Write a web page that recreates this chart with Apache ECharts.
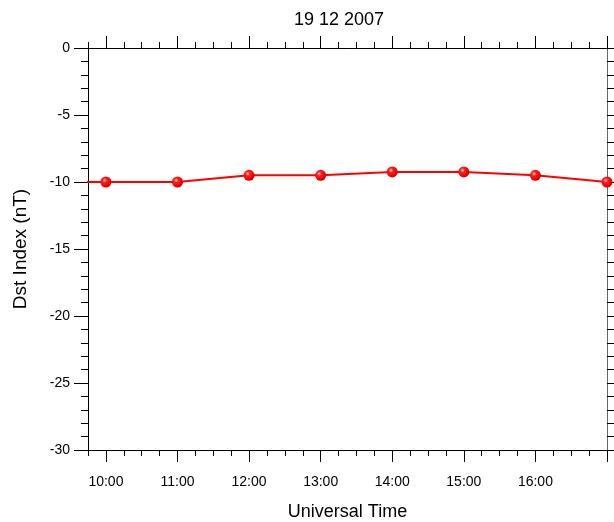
<!DOCTYPE html>
<html>
<head>
<meta charset="utf-8">
<script src="https://cdn.jsdelivr.net/npm/echarts@6/dist/echarts.min.js"></script>
<style>
html,body{margin:0;padding:0;background:#fff;}
#chart{width:614px;height:522px;}
</style>
</head>
<body>
<div id="chart"></div>
<script>
// Data (hours UT, Dst nT)
var hours = [9, 10, 11, 12, 13, 14, 15, 16, 17];
var dstValues = [-10, -10, -10, -9.5, -9.5, -9.25, -9.25, -9.5, -10];
var titleText = '19 12 2007';
var xLabelHours = [10, 11, 12, 13, 14, 15, 16];
var xMajorTicks = [10, 11, 12, 13, 14, 15, 16, 17];
var xMinorTicks = [9.75, 10.25, 10.5, 10.75, 11.25, 11.5, 11.75, 12.25, 12.5, 12.75,
  13.25, 13.5, 13.75, 14.25, 14.5, 14.75, 15.25, 15.5, 15.75, 16.25, 16.5, 16.75];

var seriesData = hours.map(function (h, i) { return [h, dstValues[i]]; });

var FONT = '"Liberation Sans", Arial, sans-serif';
var axisCol = '#000';

function xAx(pos, ticks, len, labels) {
  return {
    type: 'value', position: pos, min: 9.75, max: 17,
    axisLine: { show: true, onZero: false, lineStyle: { color: axisCol, width: 1 } },
    axisTick: { show: true, inside: false, length: len, customValues: ticks, lineStyle: { color: axisCol } },
    axisLabel: labels ? {
      show: true, customValues: xLabelHours, margin: 25, fontSize: 14, color: '#000', fontFamily: FONT,
      formatter: function (v) { return v + ':00'; }
    } : { show: false },
    splitLine: { show: false }
  };
}

var chart = echarts.init(document.getElementById('chart'), null, { renderer: 'canvas' });
chart.setOption({
  animation: false,
  backgroundColor: '#fff',
  title: {
    text: titleText, left: 289, top: 6,
    textStyle: { fontSize: 18, fontWeight: 'normal', color: '#000', fontFamily: FONT }
  },
  grid: { left: 88, right: 7, top: 48, bottom: 72, containLabel: false, outerBoundsMode: 'none' },
  xAxis: [
    Object.assign(xAx('bottom', xMajorTicks, 12, true), {
      name: 'Universal Time', nameLocation: 'middle', nameGap: 53,
      nameTextStyle: { fontSize: 18, color: '#000', fontFamily: FONT }
    }),
    xAx('bottom', xMinorTicks, 6, false),
    xAx('top', xMajorTicks, 12, false),
    xAx('top', xMinorTicks, 6, false)
  ],
  yAxis: [
    {
      type: 'value', position: 'left', min: -30, max: 0, interval: 5,
      name: 'Dst Index (nT)', nameLocation: 'middle', nameGap: 58, nameRotate: 90,
      nameTextStyle: { fontSize: 19, color: '#000', fontFamily: FONT, padding: [0, 0, 0, 0] },
      axisLine: { show: true, onZero: false, lineStyle: { color: axisCol } },
      axisTick: { show: true, length: 14, lineStyle: { color: axisCol } },
      minorTick: { show: true, splitNumber: 5, length: 7, lineStyle: { color: axisCol } },
      axisLabel: { fontSize: 14, color: '#000', fontFamily: FONT, margin: 18 },
      splitLine: { show: false }, minorSplitLine: { show: false }
    },
    {
      type: 'value', position: 'right', min: -30, max: 0, interval: 5,
      axisLine: { show: true, onZero: false, lineStyle: { color: '#666' } },
      axisTick: { show: true, length: 14, lineStyle: { color: axisCol } },
      minorTick: { show: true, splitNumber: 5, length: 7, lineStyle: { color: axisCol } },
      axisLabel: { show: false },
      splitLine: { show: false }, minorSplitLine: { show: false }
    }
  ],
  series: [{
    type: 'line', data: seriesData, xAxisIndex: 0, yAxisIndex: 0,
    clip: true,
    lineStyle: { color: '#ff0000', width: 2 },
    symbol: 'circle', symbolSize: 11, showAllSymbol: true,
    itemStyle: {
      color: {
        type: 'radial', x: 0.38, y: 0.35, r: 0.65,
        colorStops: [
          { offset: 0, color: '#ffe0e0' },
          { offset: 0.3, color: '#ff2020' },
          { offset: 0.8, color: '#f00000' },
          { offset: 1, color: '#c80000' }
        ]
      },
      borderWidth: 0
    }
  }]
});
</script>
</body>
</html>
